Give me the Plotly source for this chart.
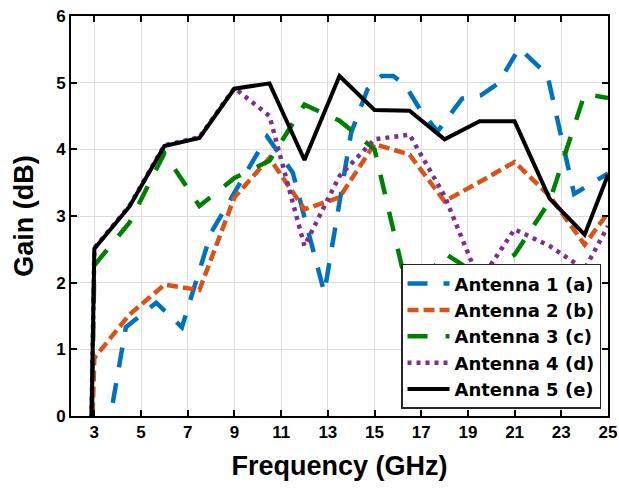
import plotly.graph_objects as go

# Shared frequency grid (GHz) for antennas 2-5 (first point lies below the axis and is clipped)
freq = [2.5, 3, 4.5, 6, 7.5, 9, 10.5, 12, 13.5, 15, 16.5, 18, 19.5, 21, 22.5, 24, 25]

# Antenna 1 sampled at its own frequencies
freq_a1 = [3.0, 4.35, 5.65, 6.75, 8.0, 10.4, 11.5, 12.85, 14.0, 14.7, 15.3, 15.8, 16.3,
           17.0, 17.7, 18.75, 19.55, 20.3, 21.2, 22.4, 23.55, 25]
gain_a1 = [-1.4, 1.33, 1.70, 1.33, 2.75, 4.19, 3.65, 1.85, 4.25, 4.9, 5.1, 5.1, 4.97,
           4.57, 4.27, 4.76, 4.81, 4.99, 5.52, 5.12, 3.33, 3.64]

gain_a2 = [-5, 0.87, 1.52, 1.97, 1.89, 3.28, 3.87, 3.10, 3.28, 4.08, 3.92, 3.22, 3.51, 3.81, 3.30, 2.57, 3.05]
gain_a3 = [-8, 2.26, 2.90, 3.94, 3.15, 3.57, 3.83, 4.67, 4.43, 4.00, 1.75, 2.44, 2.10, 2.42, 3.22, 4.83, 4.77]
gain_a4 = [-8, 2.52, 3.15, 4.06, 4.18, 4.92, 4.50, 2.55, 3.60, 4.15, 4.22, 3.30, 2.02, 2.80, 2.55, 2.20, 2.85]
gain_a5 = [-8, 2.51, 3.14, 4.05, 4.17, 4.91, 4.99, 3.84, 5.10, 4.59, 4.58, 4.15, 4.42, 4.42, 3.26, 2.72, 3.62]

names = ["Antenna 1 (a)", "Antenna 2 (b)", "Antenna 3 (c)", "Antenna 4 (d)", "Antenna 5 (e)"]
x_ticks = [3, 5, 7, 9, 11, 13, 15, 17, 19, 21, 23, 25]
y_ticks = [0, 1, 2, 3, 4, 5, 6]

FONT = "Liberation Sans, Arial, Helvetica, sans-serif"
LEGEND_FONT = "DejaVu Sans, Liberation Sans, Arial, sans-serif"

fig = go.Figure()
fig.add_trace(go.Scatter(x=freq_a1, y=gain_a1, mode="lines", name=names[0],
                         line=dict(color="#0072BD", width=4.5, dash="20px,16px")))
fig.add_trace(go.Scatter(x=freq, y=gain_a2, mode="lines", name=names[1],
                         line=dict(color="#D95319", width=4.5, dash="11px,5px")))
fig.add_trace(go.Scatter(x=freq, y=gain_a3, mode="lines", name=names[2],
                         line=dict(color="#008000", width=4.5, dash="20px,18px")))
fig.add_trace(go.Scatter(x=freq, y=gain_a4, mode="lines", name=names[3],
                         line=dict(color="#7E2F8E", width=4.5, dash="4px,5px")))
fig.add_trace(go.Scatter(x=freq, y=gain_a5, mode="lines", name=names[4],
                         line=dict(color="#000000", width=4)))

axis_common = dict(
    showline=True, linecolor="black", linewidth=2, mirror="ticks",
    ticks="inside", ticklen=6, tickwidth=2, tickcolor="black",
    showgrid=True, gridcolor="#dcdcdc", gridwidth=1, zeroline=False,
    automargin=False,
    tickfont=dict(family=FONT, size=17, color="black", weight="bold"),
)

fig.update_xaxes(range=[2, 25], tickmode="array", tickvals=x_ticks,
                 ticktext=[str(v) for v in x_ticks],
                 title=dict(text="Frequency (GHz)",
                            font=dict(family=FONT, size=27, color="black", weight="bold")),
                 **axis_common)
fig.update_yaxes(range=[0, 6], tickmode="array", tickvals=y_ticks,
                 ticktext=[str(v) for v in y_ticks],
                 title=dict(text="Gain (dB)",
                            font=dict(family=FONT, size=27, color="black", weight="bold")),
                 **axis_common)

fig.update_layout(
    width=619, height=489,
    margin=dict(l=71, r=11, t=16, b=73),
    plot_bgcolor="white", paper_bgcolor="white",
    font=dict(family=FONT, color="black"),
    legend=dict(x=0.987, y=0.018, xanchor="right", yanchor="bottom",
                bgcolor="white", bordercolor="#262626", borderwidth=1.5,
                itemwidth=42,
                font=dict(family=LEGEND_FONT, size=18, color="black", weight="bold"),
                tracegroupgap=0),
    showlegend=True,
)

fig.write_html("out.html")
